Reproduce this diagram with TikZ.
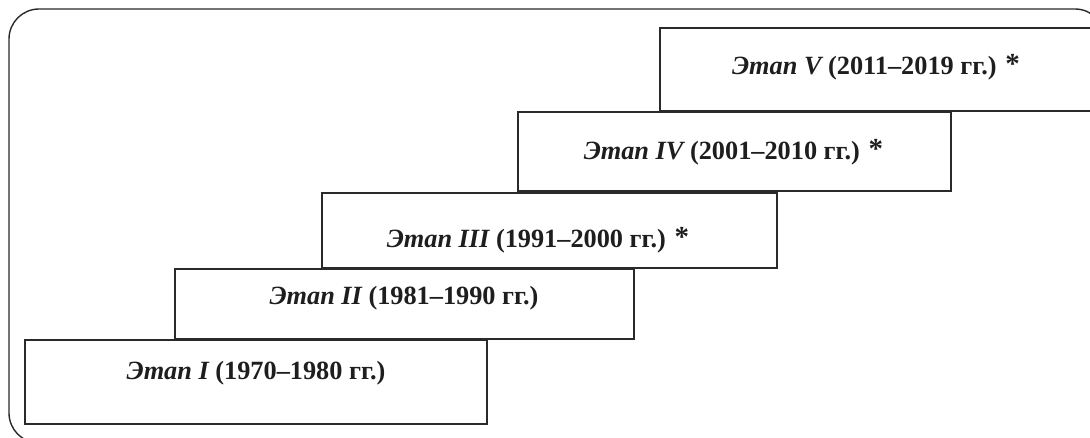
\documentclass[tikz,border=0pt]{standalone}
\usepackage{fontspec}
\setmainfont{Liberation Serif}
\definecolor{ink}{HTML}{2A2A2A}
\definecolor{txt}{HTML}{1E1E1E}
\newcommand{\starmark}{\raisebox{1pt}{\fontsize{29}{30}\selectfont\bfseries *}}
\begin{document}
\begin{tikzpicture}[x=1pt,y=-1pt,
  stagebox/.style={draw=ink, line width=2.3pt, fill=white, inner sep=0pt},
  stagelabel/.style={text=txt, inner sep=0pt, anchor=base, font=\fontsize{26.3}{30}\selectfont},
  frame/.style={draw=ink, line width=1.4pt, rounded corners=30pt}]
\useasboundingbox (0,0) rectangle (1090,438);
\clip (0,0) rectangle (1090,438);
\fill[white] (0,0) rectangle (1090,438);
\draw[frame] (9,9) rectangle (1105,443);
% boxes (drawn from back to front)
\node[stagebox, minimum width=462pt, minimum height=84pt] (b1) at (256,382) {};
\node[stagebox, minimum width=459pt, minimum height=70pt] (b2) at (404.5,304) {};
\node[stagebox, minimum width=455pt, minimum height=75pt] (b3) at (549.5,230.5) {};
\node[stagebox, minimum width=433pt, minimum height=79pt] (b4) at (734.5,151.5) {};
\node[stagebox, minimum width=432pt, minimum height=83pt] (b5) at (876,69.5) {};
% labels
\node[stagelabel] (t1) at (256,380) {{\bfseries\itshape Этап I} {\bfseries (1970–1980 гг.)}};
\node[stagelabel] (t2) at (404,305) {{\bfseries\itshape Этап II} {\bfseries (1981–1990 гг.)}};
\node[stagelabel] (t3) at (538,248) {{\bfseries\itshape Этап III} {\bfseries (1991–2000 гг.)} \starmark};
\node[stagelabel] (t4) at (733.5,160) {{\bfseries\itshape Этап IV} {\bfseries (2001–2010 гг.)} \starmark};
\node[stagelabel] (t5) at (876,75) {{\bfseries\itshape Этап V} {\bfseries (2011–2019 гг.)} \starmark};
\end{tikzpicture}
\end{document}
